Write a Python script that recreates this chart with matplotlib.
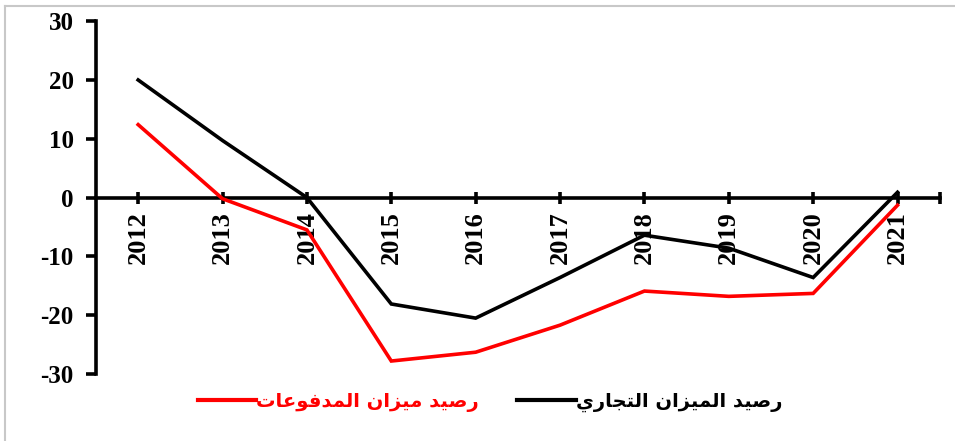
import matplotlib.pyplot as plt
from matplotlib.lines import Line2D

# data
years = ['2012', '2013', '2014', '2015', '2016', '2017', '2018', '2019', '2020', '2021']
trade_balance = [20.0, 9.7, 0.0, -18.1, -20.5, -13.6, -6.4, -8.6, -13.6, 0.9]
payments_balance = [12.4, -0.2, -5.5, -27.8, -26.3, -21.7, -15.9, -16.8, -16.3, -1.3]
trade_label = 'رصيد الميزان التجاري'
payments_label = 'رصيد ميزان المدفوعات'

# small arabic shaper: matplotlib draws glyphs left to right, no joining
forms = {
    'ا': ('\uFE8D', '\uFE8E', None, None),
    'ت': ('\uFE95', '\uFE96', '\uFE97', '\uFE98'),
    'ج': ('\uFE9D', '\uFE9E', '\uFE9F', '\uFEA0'),
    'د': ('\uFEA9', '\uFEAA', None, None),
    'ر': ('\uFEAD', '\uFEAE', None, None),
    'ز': ('\uFEAF', '\uFEB0', None, None),
    'ص': ('\uFEB9', '\uFEBA', '\uFEBB', '\uFEBC'),
    'ع': ('\uFEC9', '\uFECA', '\uFECB', '\uFECC'),
    'ف': ('\uFED1', '\uFED2', '\uFED3', '\uFED4'),
    'ل': ('\uFEDD', '\uFEDE', '\uFEDF', '\uFEE0'),
    'م': ('\uFEE1', '\uFEE2', '\uFEE3', '\uFEE4'),
    'ن': ('\uFEE5', '\uFEE6', '\uFEE7', '\uFEE8'),
    'و': ('\uFEED', '\uFEEE', None, None),
    'ي': ('\uFEF1', '\uFEF2', '\uFEF3', '\uFEF4'),
}


def shape(text):
    out = []
    for i, ch in enumerate(text):
        if ch not in forms:
            out.append(ch)
            continue
        prev = text[i - 1] if i > 0 else ''
        nxt = text[i + 1] if i < len(text) - 1 else ''
        join_prev = prev in forms and forms[prev][2] is not None
        join_next = nxt in forms and forms[ch][2] is not None
        iso, fin, ini, med = forms[ch]
        if join_prev and join_next:
            out.append(med)
        elif join_prev:
            out.append(fin)
        elif join_next:
            out.append(ini)
        else:
            out.append(iso)
    return ''.join(out)[::-1]


plt.rcParams['font.family'] = ['Liberation Serif', 'DejaVu Serif']

fig = plt.figure(figsize=(9.55, 4.41), dpi=100)
ax = fig.add_axes([0.1005, 0.152, 0.8835, 0.8])

x = list(range(len(years)))
ax.plot(x, trade_balance, color='black', lw=2.6, solid_joinstyle='miter')
ax.plot(x, payments_balance, color='#ff0000', lw=2.6, solid_joinstyle='miter')

ax.set_xlim(-0.5, len(years) - 0.5)
ax.set_ylim(-30, 30)
ax.set_yticks([-30, -20, -10, 0, 10, 20, 30])
ax.set_yticklabels(['-30', '-20', '-10', '0', '10', '20', '30'],
                   fontsize=18, fontweight='bold')

for s in ['top', 'right']:
    ax.spines[s].set_visible(False)
ax.spines['left'].set_linewidth(2.6)
ax.spines['bottom'].set_linewidth(2.6)
ax.spines['bottom'].set_position(('data', 0))
ax.spines['bottom'].set_zorder(1)

ax.set_xticks(x + [len(years) - 0.5])
ax.set_xticklabels(years + [''], rotation=90, fontsize=19, fontweight='bold')
ax.tick_params(axis='x', direction='inout', length=8, width=2.6, pad=6)
ax.tick_params(axis='y', direction='out', length=7, width=2.6, pad=9)

handles = [Line2D([], [], color='#ff0000', lw=3),
           Line2D([], [], color='black', lw=3)]
leg = fig.legend(handles, [shape(payments_label), shape(trade_label)],
                 loc='center', bbox_to_anchor=(0.513, 0.088), ncol=2,
                 frameon=False, handlelength=3.0, handletextpad=0.0,
                 columnspacing=2.0,
                 prop={'family': 'DejaVu Sans', 'weight': 'bold', 'size': 14})
leg.get_texts()[0].set_color('#ff0000')

# light frame round the chart area (top and left edges)
fig.add_artist(Line2D([0.005, 1.0], [0.986, 0.986], color='#c8c8c8', lw=1.5,
                      transform=fig.transFigure))
fig.add_artist(Line2D([0.005, 0.005], [0.0, 0.986], color='#c8c8c8', lw=1.5,
                      transform=fig.transFigure))

fig.savefig('out.png', dpi=100)
